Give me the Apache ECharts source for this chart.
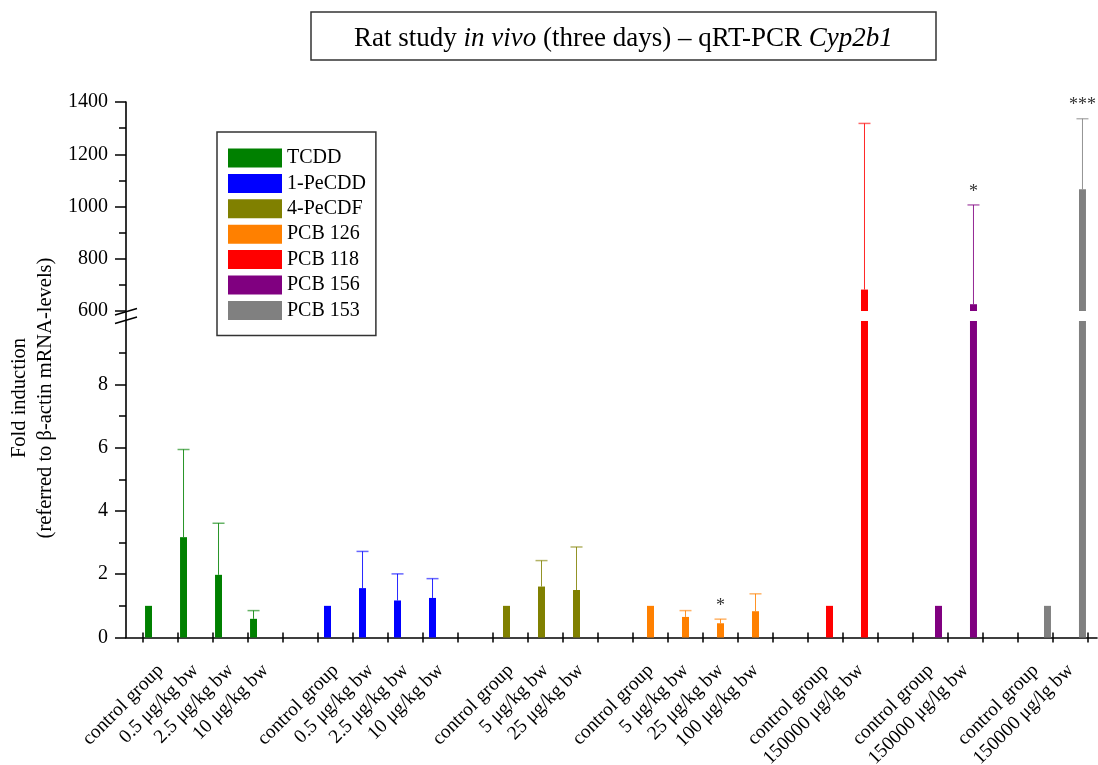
<!DOCTYPE html>
<html>
<head>
<meta charset="utf-8">
<script src="https://cdn.jsdelivr.net/npm/echarts@6/dist/echarts.min.js"></script>
<style>
  html, body { margin: 0; padding: 0; background: #fff; }
  #main { width: 1098px; height: 765px; }
</style>
</head>
<body>
<div id="main"></div>
<script>
// x categories (27 slots, blanks separate the compound groups)
var categories = [
  'control group', '0.5 μg/kg bw', '2.5 μg/kg bw', '10 μg/kg bw', '',
  'control group', '0.5 μg/kg bw', '2.5 μg/kg bw', '10 μg/kg bw', '',
  'control group', '5 μg/kg bw', '25 μg/kg bw', '',
  'control group', '5 μg/kg bw', '25 μg/kg bw', '100 μg/kg bw', '',
  'control group', '150000 μg/lg bw', '',
  'control group', '150000 μg/lg bw', '',
  'control group', '150000 μg/lg bw'
];

var compounds = ['TCDD', '1-PeCDD', '4-PeCDF', 'PCB 126', 'PCB 118', 'PCB 156', 'PCB 153'];
var colors = ['#008000', '#0000ff', '#808000', '#ff8000', '#ff0000', '#800080', '#808080'];
var firstSlot = [0, 5, 10, 14, 19, 22, 25];

// fold induction means and standard deviations
var tcddMean = [1.00, 3.17, 1.98, 0.59];
var tcddSd   = [0, 2.77, 1.63, 0.26];
var pecddMean = [1.00, 1.56, 1.17, 1.25];
var pecddSd   = [0, 1.16, 0.84, 0.61];
var pecdfMean = [1.00, 1.61, 1.50];
var pecdfSd   = [0, 0.82, 1.36];
var pcb126Mean = [1.00, 0.65, 0.45, 0.83];
var pcb126Sd   = [0, 0.20, 0.13, 0.55];
var pcb118Mean = [1.00, 682];
var pcb118Sd   = [0, 636];
var pcb156Mean = [1.00, 626];
var pcb156Sd   = [0, 380];
var pcb153Mean = [1.00, 1066];
var pcb153Sd   = [0, 270];

var signif126 = ['', '', '*', ''];
var signif156 = ['', '*'];
var signif153 = ['', '***'];

var means = [tcddMean, pecddMean, pecdfMean, pcb126Mean, pcb118Mean, pcb156Mean, pcb153Mean];
var sds = [tcddSd, pecddSd, pecdfSd, pcb126Sd, pcb118Sd, pcb156Sd, pcb153Sd];
var signifs = [[], [], [], signif126, [], signif156, signif153];

// broken axis: lower panel 0-10, upper panel 600-1400
var lowerTicks = [0, 2, 4, 6, 8];

var FONT = '"Liberation Serif", "Times New Roman", serif';
var BAR_W = 7;
var BAR_GAP = -0.43;

var chart = echarts.init(document.getElementById('main'));

function slotData(i, keep) {
  var arr = categories.map(function () { return '-'; });
  means[i].forEach(function (v, j) {
    if (keep(v)) arr[firstSlot[i] + j] = v;
  });
  return arr;
}

function errData(i, keep) {
  var arr = [];
  means[i].forEach(function (v, j) {
    if (sds[i][j] > 0 && keep(v)) {
      arr.push([firstSlot[i] + j, v, v + sds[i][j], j]);
    }
  });
  return arr;
}

function errRender(i) {
  var offset = (i - 3) * BAR_W * (1 + BAR_GAP);
  return function (params, api) {
    var base = api.coord([api.value(0), api.value(1)]);
    var top = api.coord([api.value(0), api.value(2)]);
    var cx = base[0] + offset;
    var kids = [
      { type: 'line', shape: { x1: cx, y1: base[1], x2: cx, y2: top[1] },
        style: { stroke: colors[i], lineWidth: 1, opacity: 0.85 } },
      { type: 'line', shape: { x1: cx - 6, y1: top[1], x2: cx + 6, y2: top[1] },
        style: { stroke: colors[i], lineWidth: 1.5, opacity: 0.6 } }
    ];
    var mark = signifs[i][api.value(3)];
    if (mark) {
      kids.push({ type: 'text', x: cx, y: top[1] - 4,
        style: { text: mark, align: 'center', verticalAlign: 'bottom',
          font: '18px ' + FONT, fill: '#333' } });
    }
    return { type: 'group', children: kids };
  };
}

var isHigh = function (v) { return v > 10; };
var isLow = function (v) { return v <= 10; };
var any = function () { return true; };

var series = [];
compounds.forEach(function (name, i) {
  series.push({
    name: name, type: 'bar', xAxisIndex: 1, yAxisIndex: 1,
    data: slotData(i, any), barWidth: BAR_W, barGap: '-43%', clip: true,
    itemStyle: { color: colors[i] }, emphasis: { disabled: true }
  });
  series.push({
    name: name, type: 'bar', xAxisIndex: 0, yAxisIndex: 0,
    data: slotData(i, isHigh), barWidth: BAR_W, barGap: '-43%', clip: true,
    itemStyle: { color: colors[i] }, emphasis: { disabled: true }
  });
});
compounds.forEach(function (name, i) {
  series.push({
    name: name + ' sd', type: 'custom', xAxisIndex: 1, yAxisIndex: 1,
    renderItem: errRender(i), data: errData(i, isLow), z: 3
  });
  series.push({
    name: name + ' sd hi', type: 'custom', xAxisIndex: 0, yAxisIndex: 0,
    renderItem: errRender(i), data: errData(i, isHigh), z: 3
  });
});

var plain = function (v) { return String(v); };

var option = {
  animation: false,
  backgroundColor: '#fff',
  title: {
    text: 'Rat study {i|in vivo} (three days) – qRT-PCR {i|Cyp2b1}',
    left: 311, top: 12,
    padding: [14, 43, 8, 43],
    borderColor: '#333', borderWidth: 1.5,
    textStyle: {
      fontFamily: FONT, fontSize: 27, fontWeight: 'normal', color: '#000', lineHeight: 26,
      rich: { i: { fontFamily: FONT, fontSize: 27, fontStyle: 'italic', color: '#000' } }
    }
  },
  legend: {
    data: compounds,
    orient: 'vertical',
    left: 217, top: 132,
    icon: 'rect',
    itemWidth: 54, itemHeight: 19, itemGap: 5.4,
    padding: [16, 10, 15, 11],
    borderColor: '#333', borderWidth: 1.5,
    selectedMode: false,
    textStyle: { fontFamily: FONT, fontSize: 20, color: '#000', lineHeight: 19 }
  },
  grid: [
    { left: 143, right: 10, top: 102, height: 209, outerBoundsMode: 'none' },
    { left: 143, right: 10, top: 321, height: 316.5, outerBoundsMode: 'none' },
    { left: 126, right: 1, top: 102, height: 535.5, outerBoundsMode: 'none' }
  ],
  xAxis: [
    { type: 'category', gridIndex: 0, data: categories, show: false },
    {
      type: 'category', gridIndex: 1, data: categories, position: 'bottom',
      axisLine: { show: false },
      axisTick: { show: true, interval: 0, length: 5, lineStyle: { color: '#000', width: 1.5 } },
      axisLabel: { interval: 0, rotate: 45, margin: 30, fontFamily: FONT, fontSize: 19.5, color: '#000' },
      splitLine: { show: false }
    },
    {
      type: 'category', gridIndex: 1, data: categories, position: 'bottom',
      axisLine: { show: false },
      axisTick: { show: true, interval: 0, inside: true, length: 5, lineStyle: { color: '#000', width: 1.5 } },
      axisLabel: { show: false },
      splitLine: { show: false }
    },
    {
      type: 'value', gridIndex: 2, min: 0, max: 1, position: 'bottom',
      axisLine: { show: true, lineStyle: { color: '#000', width: 1.6 } },
      axisTick: { show: false }, axisLabel: { show: false }, splitLine: { show: false }
    }
  ],
  yAxis: [
    {
      type: 'value', gridIndex: 0, min: 600, max: 1400, interval: 200, offset: 17,
      axisLine: { show: false },
      axisTick: { show: true, length: 11, lineStyle: { color: '#000', width: 1.5 } },
      minorTick: { show: true, splitNumber: 2, length: 7, lineStyle: { color: '#000', width: 1.5 } },
      axisLabel: { margin: 18, formatter: plain, fontFamily: FONT, fontSize: 20, color: '#000' },
      splitLine: { show: false }
    },
    {
      type: 'value', gridIndex: 1, min: 0, max: 10, interval: 2, offset: 17,
      axisLine: { show: false },
      axisTick: { show: true, length: 11, customValues: lowerTicks, lineStyle: { color: '#000', width: 1.5 } },
      minorTick: { show: true, splitNumber: 2, length: 7, lineStyle: { color: '#000', width: 1.5 } },
      axisLabel: { margin: 18, customValues: lowerTicks, formatter: plain, fontFamily: FONT, fontSize: 20, color: '#000' },
      splitLine: { show: false }
    },
    {
      type: 'value', gridIndex: 2, min: 0, max: 1,
      axisLine: { show: true, lineStyle: { color: '#000', width: 1.6 } },
      axisTick: { show: false }, axisLabel: { show: false }, splitLine: { show: false }
    }
  ],
  graphic: [
    {
      type: 'text', x: 33, y: 398, rotation: Math.PI / 2,
      style: {
        text: 'Fold induction\n(referred to β-actin mRNA-levels)',
        font: '20.5px ' + FONT, align: 'center', verticalAlign: 'middle',
        lineHeight: 26, fill: '#000'
      }
    },
    // axis break marks
    { type: 'line', shape: { x1: 115, y1: 315, x2: 137, y2: 308.5 }, style: { stroke: '#000', lineWidth: 1.5 } },
    { type: 'line', shape: { x1: 115, y1: 323.5, x2: 137, y2: 317 }, style: { stroke: '#000', lineWidth: 1.5 } }
  ],
  series: series
};

chart.setOption(option);
</script>
</body>
</html>
